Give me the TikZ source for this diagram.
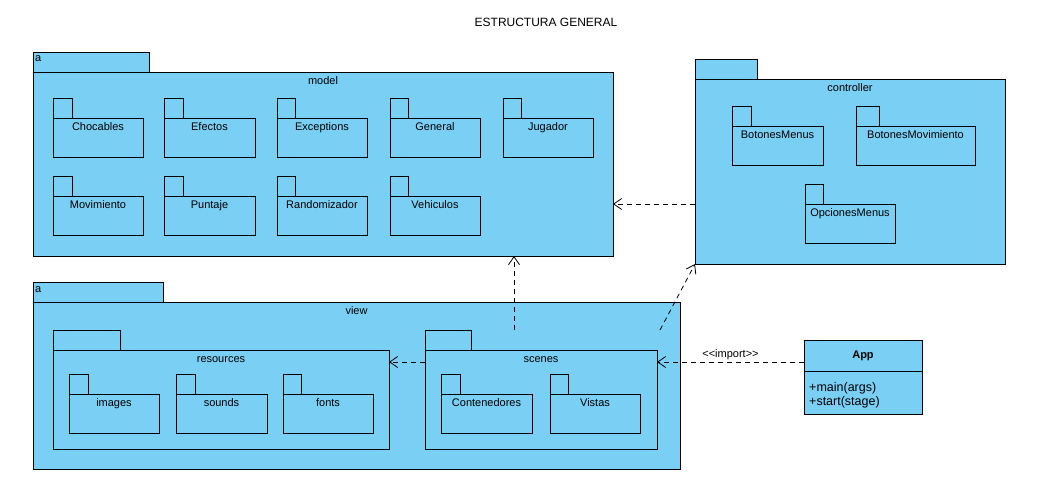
\documentclass[tikz,border=0pt]{standalone}
\usepackage{fontspec}
\setmainfont{Liberation Sans}
\usetikzlibrary{arrows.meta}
\definecolor{pkgblue}{RGB}{122,207,245}
\tikzset{
  pkgshape/.style={draw=black, fill=pkgblue, line width=0.8pt, anchor=north west, inner sep=0pt, outer sep=0pt},
  pkglabel/.style={anchor=base, inner sep=0pt, font=\fontsize{11}{13}\selectfont},
  dep/.style={draw=black, line width=0.8pt, dash pattern=on 5pt off 4pt, -{Straight Barb[length=8pt,width=11pt,line width=0.8pt]}},
  txt/.style={inner sep=0pt, font=\fontsize{11}{13}\selectfont},
}
% #1 name, #2 x1, #3 tab top, #4 body top, #5 x2, #6 bottom, #7 tab right, #8 label
\newcommand\pkgbox[8]{%
  \node[pkgshape, minimum width={(#7-#2)*1pt}, minimum height={(#4-#3)*1pt}] (#1-tab) at (#2,#3) {};
  \node[pkgshape, minimum width={(#5-#2)*1pt}, minimum height={(#6-#4)*1pt}] (#1) at (#2,#4) {};
  \node[pkglabel] (#1-label) at ([yshift=-12.3pt]#1.north) {#8};
}
\begin{document}
\begin{tikzpicture}[x=1pt,y=-1pt]
\useasboundingbox (0,0) rectangle (1041,487);
\node[txt, font=\fontsize{12}{14}\selectfont] (title) at (546,22) {ESTRUCTURA GENERAL};

% model
\pkgbox{model}{33}{52}{72}{613}{256}{149}{model}
\node[txt, anchor=base west] (model-a) at (35,62) {a};
\pkgbox{chocables}{53}{98}{118}{143}{157}{72}{Chocables}
\pkgbox{efectos}{164}{98}{118}{255}{157}{183}{Efectos}
\pkgbox{exceptions}{277}{98}{118}{367}{157}{295}{Exceptions}
\pkgbox{general}{390}{98}{118}{480}{157}{408}{General}
\pkgbox{jugador}{503}{98}{118}{593}{157}{521}{Jugador}
\pkgbox{movimiento}{53}{176}{196}{143}{235}{72}{Movimiento}
\pkgbox{puntaje}{164}{176}{196}{255}{235}{183}{Puntaje}
\pkgbox{randomizador}{277}{176}{196}{367}{235}{295}{Randomizador}
\pkgbox{vehiculos}{390}{176}{196}{480}{235}{408}{Vehiculos}

% controller
\pkgbox{ctrl}{695}{59}{79}{1005}{264}{757}{controller}
\pkgbox{botmenus}{732}{106}{126}{823}{165}{751}{BotonesMenus}
\pkgbox{botmov}{856}{106}{126}{975}{165}{879}{BotonesMovimiento}
\pkgbox{opcmenus}{805}{184}{204}{895}{243}{823}{OpcionesMenus}

% view
\pkgbox{view}{33}{282}{302}{680}{469}{163}{view}
\node[txt, anchor=base west] (view-a) at (35,292) {a};
\pkgbox{res}{53}{330}{350}{389}{449}{120}{resources}
\pkgbox{images}{69}{374}{394}{159}{433}{88}{images}
\pkgbox{sounds}{176}{374}{394}{267}{433}{195}{sounds}
\pkgbox{fonts}{283}{374}{394}{373}{433}{301}{fonts}
\pkgbox{scenes}{425}{330}{350}{657}{449}{471}{scenes}
\pkgbox{conten}{441}{374}{394}{532}{433}{460}{Contenedores}
\pkgbox{vistas}{550}{374}{394}{640}{433}{568}{Vistas}

% App class
\node[pkgshape, minimum width=118pt, minimum height=74pt] (app) at (804,340) {};
\draw[line width=0.8pt] (app.west |- 0,371) -- (app.east |- 0,371);
\node[txt, font=\fontsize{11}{13}\bfseries\selectfont] (app-name) at (863,356) {App};
\node[txt, anchor=base west, font=\fontsize{12.5}{14}\selectfont] (app-m1) at (809,391) {+main(args)};
\node[txt, anchor=base west, font=\fontsize{12.5}{14}\selectfont] (app-m2) at (809,405) {+start(stage)};

% dependencies
\draw[dep] (ctrl.west |- 0,204) -- (model.east |- 0,204);
\draw[dep] (scenes-tab.north -| 514,0) -- (model.south -| 514,0);
\draw[dep] (scenes-tab.north -| 660,0) -- (ctrl.south west);
\draw[dep] (scenes.west |- 0,362) -- (res.east |- 0,362);
\draw[dep] (app.west |- 0,362) -- node[midway, above=2pt, inner sep=0pt, font=\fontsize{11}{13}\selectfont] (import) {<{}<import>{}>} (scenes.east |- 0,362);
\end{tikzpicture}
\end{document}
